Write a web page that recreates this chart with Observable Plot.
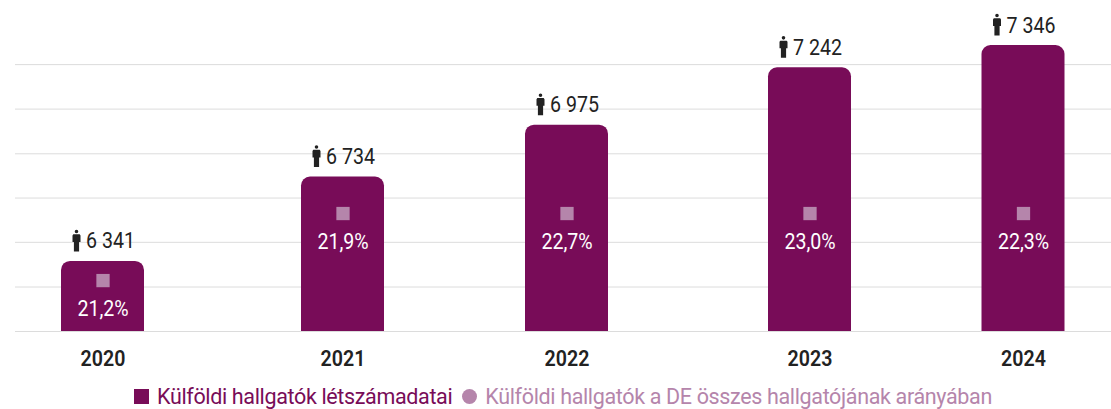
<!DOCTYPE html>
<html><head><meta charset="utf-8">
<script src="https://cdn.jsdelivr.net/npm/d3@7"></script>
<script src="https://cdn.jsdelivr.net/npm/@observablehq/plot@0.6"></script>
<style>
html,body{margin:0;padding:0;background:#fff;overflow:hidden}
#legend{position:absolute;left:134px;top:382px;height:28px;display:flex;align-items:center;font:21.5px Roboto,sans-serif;letter-spacing:-0.35px;white-space:nowrap}
#legend i{display:inline-block;width:15px;height:15px;margin-right:8px}
</style></head><body>
<div id="chart"></div>
<div id="legend"></div>
<script>
const years = [2020, 2021, 2022, 2023, 2024];
const counts = [6341, 6734, 6975, 7242, 7346];
const shares = ["21,2%", "21,9%", "22,7%", "23,0%", "22,3%"];
const markerLevels = [6252, 6564, 6564, 6564, 6564];
const countLabels = ["6 341", "6 734", "6 975", "7 242", "7 346"];
const gridValues = [6222, 6430, 6636, 6842, 7050, 7257];
const yearPositions = [102.5, 342.5, 566.5, 809.5, 1023];
const legendItems = ["Külföldi hallgatók létszámadatai", "Külföldi hallgatók a DE összes hallgatójának arányában"];
const barColor = "#780c58", markColor = "#b585ab", font = "Roboto,sans-serif";
const rows = years.map((y, i) => ({year: y, count: counts[i], share: shares[i], level: markerLevels[i], label: countLabels[i]}));
const person = {draw(c, s) {
  c.moveTo(1.8, -9); c.arc(0, -9, 1.8, 0, 2 * Math.PI);
  c.moveTo(-3.2, -6.2); c.lineTo(3.2, -6.2); c.lineTo(4, -5); c.lineTo(4, 1.5); c.lineTo(2.6, 1.5); c.lineTo(2.6, 11);
  c.lineTo(-2.6, 11); c.lineTo(-2.6, 1.5); c.lineTo(-4, 1.5); c.lineTo(-4, -5); c.closePath();
}};
const base = 6015;
const plot = Plot.plot({
  width: 1111, height: 381, marginTop: 45, marginBottom: 50, marginLeft: 15, marginRight: 0,
  style: {fontFamily: font, background: "#fff"},
  x: {type: "linear", domain: years, range: yearPositions, axis: null},
  y: {domain: [base, 7346], axis: null},
  marks: [
    Plot.ruleY(gridValues.concat([base]), {stroke: "#dcdcdc", strokeWidth: 1}),
    Plot.rect(rows, {x1: "year", x2: "year", y1: base, y2: "count", fill: barColor, insetLeft: -41.5, insetRight: -41.5, ry2: 9}),
    Plot.dot(rows, {x: "year", y: "level", symbol: "square", r: 7.5, fill: markColor}),
    Plot.text(rows, {x: "year", y: "level", text: "share", dy: 28, fill: "#fff", fontSize: 22}),
    Plot.dot(rows, {x: "year", y: "count", symbol: person, r: 4, fill: "#222", dx: -26.5, dy: -21}),
    Plot.text(rows, {x: "year", y: "count", text: "label", dy: -20, dx: 7.5, fill: "#222", fontSize: 22}),
    Plot.text(rows, {x: "year", y: base, text: d => String(d.year), dy: 27, fill: "#222", fontSize: 22, fontWeight: 600})
  ]
});
document.getElementById("chart").append(plot);
plot.querySelectorAll("text").forEach(t => {
  t.setAttribute("textLength", (t.getComputedTextLength() * 0.89).toFixed(1));
  t.setAttribute("lengthAdjust", "spacingAndGlyphs");
});
const lg = document.getElementById("legend");
legendItems.forEach((t, i) => {
  const m = document.createElement("i"); m.style.background = i ? markColor : barColor; if (i) m.style.borderRadius = "50%";
  const s = document.createElement("span"); s.textContent = t; s.style.color = i ? markColor : barColor; s.style.marginRight = i ? "0" : "10px";
  lg.append(m, s);
});
</script></body></html>
